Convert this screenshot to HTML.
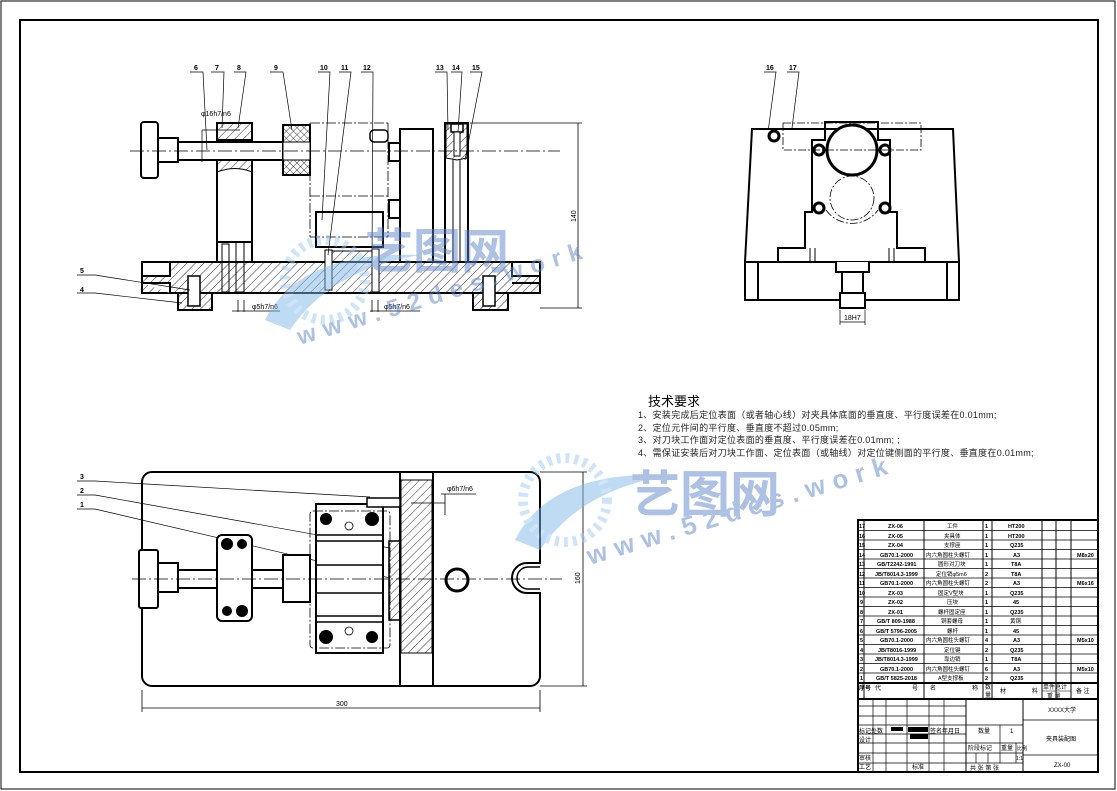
<!DOCTYPE html>
<html><head><meta charset="utf-8"><style>
html,body{margin:0;padding:0;background:#fff}
svg{display:block}
text{font-family:"Liberation Sans","Noto Sans CJK SC",sans-serif;fill:#000}
.t{font-size:5.5px;font-weight:bold}
.c{font-size:7px}
</style></head><body>
<svg width="1117" height="791" viewBox="0 0 1117 791" xmlns="http://www.w3.org/2000/svg">
<defs>
<pattern id="h" width="6" height="6" patternUnits="userSpaceOnUse" patternTransform="rotate(45)">
<line x1="0" y1="0" x2="0" y2="6" stroke="#000" stroke-width="0.8"/></pattern>
<pattern id="x" width="5" height="5" patternUnits="userSpaceOnUse" patternTransform="rotate(45)">
<path d="M0 0V5M0 0H5" stroke="#000" stroke-width="0.7" fill="none"/></pattern>
</defs>
<rect x="1" y="1" width="1114" height="788" fill="none" stroke="#000" stroke-width="1"/>
<rect x="20" y="20" width="1078" height="752" fill="none" stroke="#000" stroke-width="2"/>

<!-- FRONT VIEW -->
<g stroke="#000" fill="none" stroke-width="2">
<path d="M142 262H540V293H142Z" fill="url(#h)"/>
<path d="M142 262H170V276H142Z M512 262H540V276H512Z M142 283H170V293 M512 283H540" fill="#fff"/>
<rect x="178" y="293" width="34" height="17" fill="url(#h)"/>
<rect x="473" y="293" width="35" height="17" fill="url(#h)"/>
<rect x="188" y="276" width="12" height="30" fill="#fff" stroke-width="1.5"/>
<rect x="483" y="276" width="12" height="30" fill="#fff" stroke-width="1.5"/>
<rect x="141" y="122" width="17" height="56" rx="3" fill="#fff"/>
<rect x="158" y="138" width="20" height="24" fill="#fff"/>
<rect x="178" y="142" width="105" height="18" fill="#fff"/>
<rect x="217" y="123" width="35" height="17" fill="url(#h)"/>
<rect x="217" y="160" width="35" height="102" fill="#fff"/>
<path d="M217 160H252V172Q235 165 217 172Z" fill="url(#h)" stroke-width="1"/>
<rect x="283" y="125" width="27" height="50" fill="url(#x)"/>
<rect x="283" y="142" width="27" height="18" fill="#fff" stroke-width="1"/>
<rect x="217" y="242" width="35" height="20" fill="#fff"/>
<rect x="222" y="244" width="7" height="48" stroke-width="1"/>
<rect x="236" y="242" width="8" height="50" stroke-width="1"/>
<rect x="316" y="212" width="67" height="35" fill="#fff"/>
<path d="M330 251H375V262H330Z" fill="url(#h)" stroke-width="1"/>
<rect x="325" y="250" width="7" height="40" fill="#fff" stroke-width="1"/>
<rect x="372" y="249" width="7" height="43" fill="#fff" stroke-width="1"/>
<rect x="400" y="129" width="33" height="133" fill="#fff"/>
<rect x="389" y="143" width="11" height="18" fill="#fff"/>
<rect x="389" y="200" width="11" height="18" fill="#fff"/>
<rect x="370" y="130" width="18" height="12" rx="4" fill="#fff" stroke-width="1.5"/>
<rect x="445" y="123" width="23" height="139" fill="#fff"/>
<line x1="453" y1="160" x2="453" y2="262" stroke-width="1"/>
<line x1="460" y1="160" x2="460" y2="262" stroke-width="1"/>
<path d="M446 124H467V158L457 160L446 158Z" fill="url(#h)" stroke-width="1"/>
<rect x="451" y="124" width="12" height="8" fill="#fff" stroke-width="1.5"/>
<rect x="454" y="132" width="6" height="24" fill="#fff" stroke-width="1"/>
</g>
<g stroke="#000" stroke-width="0.8" fill="none">
<path d="M310 123H388M310 237H388M310 123V237M388 123V237M310 196H388" stroke-dasharray="10 2 2 2"/>
<path d="M130 151H560" stroke-dasharray="14 3 2 3"/>
<path d="M470 123H582M540 308H582M578 123V308"/>
<path d="M202 130H240M202 130V162" stroke-width="0.7"/>
<text x="201" y="116" style="font-size:7px;stroke:none">φ16h7/n6</text>
<path d="M238 300V312M244 300V312M232 311H280M372 300V312M378 300V312M370 311H420"/>
</g>
<text x="252" y="309" class="c">φ5h7/n6</text>
<text x="384" y="309" class="c">φ5h7/n6</text>
<text x="576" y="222" class="c" transform="rotate(-90 576 222)">140</text>
<!-- leaders -->
<g stroke="#000" stroke-width="0.7" fill="none">
<path d="M190 72H203L207 150M211 72H224L222 128M234 72H246L238 128M270 72H283L292 130M318 72H330L322 220M339 72H351L328 255M361 72H373L372 258M435 72H447L448 130M451 72H462L458 132M470 72H482L465 160M764 72H776L768 132M787 72H799L792 128"/>
<path d="M77 275H95L190 290M77 293H95L182 303"/>
<path d="M77 481H95L370 497M77 495H95L390 548M77 509H95L390 578"/>
</g>
<g class="c" style="font-size:7px;font-weight:bold">
<text x="194" y="70">6</text><text x="215" y="70">7</text><text x="237" y="70">8</text><text x="274" y="70">9</text>
<text x="320" y="70">10</text><text x="341" y="70">11</text><text x="363" y="70">12</text>
<text x="436" y="70">13</text><text x="452" y="70">14</text><text x="472" y="70">15</text>
<text x="766" y="70">16</text><text x="789" y="70">17</text>
<text x="80" y="273">5</text><text x="80" y="292">4</text>
<text x="80" y="479">3</text><text x="80" y="493">2</text><text x="80" y="507">1</text>
</g>

<!-- SIDE VIEW -->
<g stroke="#000" fill="none" stroke-width="2">
<path d="M752 129H953L959 262H745Z" fill="#fff"/>
<rect x="745" y="262" width="214" height="38"/>
<line x1="758" y1="262" x2="758" y2="300"/><line x1="947" y1="262" x2="947" y2="300"/>
<path d="M778 262V248H805V212H812V140H825V122H878V140H890V212H897V248H925V262"/>
<path d="M810 262V248M815 262V248M889 262V248M894 262V248" stroke-width="1"/>
<circle cx="852" cy="150" r="25" stroke-width="3" fill="#fff"/>
<circle cx="774" cy="136" r="5" stroke-width="3"/>
<circle cx="819" cy="150" r="5" stroke-width="3"/><circle cx="885" cy="150" r="5" stroke-width="3"/>
<circle cx="819" cy="208" r="5" stroke-width="3"/><circle cx="885" cy="208" r="5" stroke-width="3"/>
<path d="M836 262V272H869V262M842 272V293H863V272" fill="#fff"/>
<rect x="840" y="293" width="25" height="15" fill="#fff"/>
</g>
<g stroke="#000" stroke-width="0.8" fill="none" stroke-dasharray="8 2 2 2">
<rect x="783" y="123" width="138" height="27"/>
<circle cx="852" cy="198" r="22"/>
<path d="M826 210A32 32 0 0 0 878 210"/>
</g>
<path d="M840 310V325M865 310V325M840 322H865" stroke="#000" stroke-width="0.7"/>
<text x="844" y="320" class="c">18H7</text>

<!-- TOP VIEW -->
<g stroke="#000" fill="none" stroke-width="2">
<path d="M152 472H530A10 10 0 0 1 540 482V563H527A15 15 0 0 0 527 593H540V676A10 10 0 0 1 530 686H152A10 10 0 0 1 142 676V482A10 10 0 0 1 152 472Z"/>
<path d="M540 567H528A11 11 0 0 0 528 589H540" stroke-width="1.5"/>
<rect x="400" y="472" width="33" height="214"/>
<path d="M401 480H432V653H401Z" fill="url(#h)" stroke-width="1"/>
<rect x="139" y="550" width="19" height="58" rx="2" fill="#fff"/>
<rect x="158" y="563" width="20" height="29" fill="#fff"/>
<rect x="178" y="570" width="105" height="18" fill="#fff"/>
<rect x="217" y="535" width="35" height="86" rx="5" fill="#fff"/>
<rect x="283" y="555" width="27" height="47" fill="#fff"/>
<rect x="316" y="504" width="67" height="149" fill="#fff"/>
<path d="M316 535H383M316 541H383M316 565H383M316 593H383M316 616H383M316 622H383" stroke-width="1.5"/>
<rect x="389" y="541" width="11" height="79" fill="url(#h)" stroke-width="1.5"/>
<rect x="367" y="498" width="33" height="9" fill="#fff" stroke-width="1.5"/>
<circle cx="457" cy="580" r="11" stroke-width="3"/>
<circle cx="326" cy="519" r="5" fill="#000"/><circle cx="372" cy="519" r="6" fill="#000"/>
<circle cx="326" cy="637" r="6" fill="#000"/><circle cx="372" cy="637" r="5" fill="#000"/>
<circle cx="227" cy="544" r="5" fill="#000"/><circle cx="242" cy="544" r="4" fill="#000"/>
<circle cx="227" cy="611" r="4" fill="#000"/><circle cx="242" cy="611" r="5" fill="#000"/>
</g>
<g stroke="#000" stroke-width="0.8" fill="none">
<circle cx="349" cy="526" r="4"/><circle cx="349" cy="631" r="4"/>
<rect x="310" y="511" width="80" height="137" rx="3" stroke-dasharray="10 2 2 2"/>
<path d="M132 579H562" stroke-dasharray="14 3 2 3"/>
<path d="M142 690V712M540 690V712M142 708H540M540 472H587M540 686H587M583 472V686"/>
<path d="M411 503H445M445 494V515M441 494H476"/>
</g>
<text x="336" y="706" class="c">300</text>
<text x="580" y="584" class="c" transform="rotate(-90 580 584)">160</text>
<text x="447" y="491" class="c">φ6h7/n6</text>

<!-- Technical requirements -->
<text x="648" y="406" style="font-size:13px">技术要求</text>
<g>
<text x="638" y="418" style="font-size:9px;letter-spacing:0.3px;fill:#222">1、安装完成后定位表面（或者轴心线）对夹具体底面的垂直度、平行度误差在0.01mm;</text>
<text x="638" y="431" style="font-size:9px;letter-spacing:0.3px;fill:#222">2、定位元件间的平行度、垂直度不超过0.05mm;</text>
<text x="638" y="443" style="font-size:9px;letter-spacing:0.3px;fill:#222">3、对刀块工作面对定位表面的垂直度、平行度误差在0.01mm; ;</text>
<text x="638" y="456" style="font-size:9px;letter-spacing:0.3px;fill:#222">4、需保证安装后对刀块工作面、定位表面（或轴线）对定位键侧面的平行度、垂直度在0.01mm;</text>
</g>

<!-- TABLE -->
<g stroke="#000" fill="none">
<rect x="858" y="520" width="240" height="252" stroke-width="2"/>
<path d="M858 683H1098M858 699H1098" stroke-width="2"/>
<path d="M858 530.5H1098M858 540H1098M858 549.5H1098M858 559H1098M858 568.5H1098M858 578H1098M858 587.5H1098M858 597H1098M858 606.5H1098M858 616H1098M858 625.5H1098M858 635H1098M858 644.5H1098M858 654H1098M858 663.5H1098M858 673H1098" stroke-width="0.8"/>
<path d="M864 520V699M924 520V699M983 520V699M992 520V699M1042 520V699M1056 520V699M1071 520V699" stroke-width="1"/>
<path d="M1042 691H1071" stroke-width="0.6"/>
<path d="M966 699V772M1023 699V772" stroke-width="1"/>
<path d="M858 706H966M858 716H966M858 725H1023M858 734H966M858 743H1023M858 753H1023M858 763H1023M1023 720H1098M1023 755H1098" stroke-width="0.7"/>
<path d="M873 699V772M886 699V772M907 699V772M929 699V772M944 699V772M1000 725V763M1016 743V763M976 753V763M988 753V763" stroke-width="0.7"/>
</g>
<rect x="891" y="727" width="12" height="4" fill="#000"/><rect x="908" y="727" width="20" height="5" fill="#000"/><rect x="910" y="734" width="18" height="5" fill="#000"/>
<g class="t">
<text x="859" y="528">17</text><text x="888" y="528">ZX-06</text><text x="947" y="528" style="font-weight:normal">工件</text><text x="985" y="528">1</text><text x="1008" y="528">HT200</text>
<text x="859" y="538">16</text><text x="888" y="538">ZX-05</text><text x="944" y="538" style="font-weight:normal">夹具体</text><text x="985" y="538">1</text><text x="1008" y="538">HT200</text>
<text x="859" y="547">15</text><text x="888" y="547">ZX-04</text><text x="944" y="547" style="font-weight:normal">支撑座</text><text x="985" y="547">1</text><text x="1010" y="547">Q235</text>
<text x="859" y="557">14</text><text x="880" y="557">GB70.1-2000</text><text x="926" y="557" style="font-weight:normal">内六角圆柱头螺钉</text><text x="985" y="557">1</text><text x="1013" y="557">A3</text><text x="1077" y="557">M8x20</text>
<text x="859" y="566">13</text><text x="877" y="566">GB/T2242-1991</text><text x="938" y="566" style="font-weight:normal">圆形对刀块</text><text x="985" y="566">1</text><text x="1011" y="566">T8A</text>
<text x="859" y="576">12</text><text x="875" y="576">JB/T8014.3-1999</text><text x="936" y="576" style="font-weight:normal">定位销φ5m6</text><text x="985" y="576">2</text><text x="1011" y="576">T8A</text>
<text x="859" y="585">11</text><text x="880" y="585">GB70.1-2000</text><text x="926" y="585" style="font-weight:normal">内六角圆柱头螺钉</text><text x="985" y="585">2</text><text x="1013" y="585">A3</text><text x="1077" y="585">M6x16</text>
<text x="859" y="595">10</text><text x="888" y="595">ZX-03</text><text x="938" y="595" style="font-weight:normal">固定V型块</text><text x="985" y="595">1</text><text x="1010" y="595">Q235</text>
<text x="860" y="604">9</text><text x="888" y="604">ZX-02</text><text x="947" y="604" style="font-weight:normal">压块</text><text x="985" y="604">1</text><text x="1013" y="604">45</text>
<text x="860" y="614">8</text><text x="888" y="614">ZX-01</text><text x="938" y="614" style="font-weight:normal">螺杆固定座</text><text x="985" y="614">1</text><text x="1010" y="614">Q235</text>
<text x="860" y="623">7</text><text x="877" y="623">GB/T 809-1988</text><text x="941" y="623" style="font-weight:normal">铜套螺母</text><text x="985" y="623">1</text><text x="1010" y="623" style="font-weight:normal">黄铜</text>
<text x="860" y="633">6</text><text x="876" y="633">GB/T 5796-2005</text><text x="947" y="633" style="font-weight:normal">螺杆</text><text x="985" y="633">1</text><text x="1013" y="633">45</text>
<text x="860" y="642">5</text><text x="880" y="642">GB70.1-2000</text><text x="926" y="642" style="font-weight:normal">内六角圆柱头螺钉</text><text x="985" y="642">4</text><text x="1013" y="642">A3</text><text x="1077" y="642">M5x10</text>
<text x="860" y="652">4</text><text x="878" y="652">JB/T8016-1999</text><text x="944" y="652" style="font-weight:normal">定位键</text><text x="985" y="652">2</text><text x="1010" y="652">Q235</text>
<text x="860" y="661">3</text><text x="875" y="661">JB/T8014.3-1999</text><text x="944" y="661" style="font-weight:normal">靠边销</text><text x="985" y="661">1</text><text x="1011" y="661">T8A</text>
<text x="860" y="671">2</text><text x="880" y="671">GB70.1-2000</text><text x="926" y="671" style="font-weight:normal">内六角圆柱头螺钉</text><text x="985" y="671">6</text><text x="1013" y="671">A3</text><text x="1077" y="671">M5x10</text>
<text x="860" y="680">1</text><text x="876" y="680">GB/T 5825-2018</text><text x="938" y="680" style="font-weight:normal">A型支撑板</text><text x="985" y="680">2</text><text x="1010" y="680">Q235</text>
</g>
<g style="font-size:6px">
<text x="859" y="690" style="font-size:6px;font-weight:bold">序号</text><text x="875" y="690" style="font-size:6px">代</text><text x="912" y="690" style="font-size:6px">号</text>
<text x="930" y="690" style="font-size:6px">名</text><text x="972" y="690" style="font-size:6px">称</text>
<text x="985" y="689" style="font-size:6px">数</text><text x="985" y="697" style="font-size:6px">量</text>
<text x="1000" y="693" style="font-size:6px">材</text><text x="1032" y="693" style="font-size:6px">料</text>
<text x="1043" y="689" style="font-size:6px">单件总计</text><text x="1047" y="698" style="font-size:6px">重 量</text>
<text x="1076" y="693" style="font-size:6px">备 注</text>
<text x="1048" y="712" style="font-size:6px">XXXX大学</text>
<text x="1046" y="741" style="font-size:6px">夹具装配图</text>
<text x="1054" y="767" style="font-size:6px">ZX-00</text>
<text x="978" y="733" style="font-size:6px">数量</text><text x="1010" y="733" style="font-size:6px">1</text>
<text x="968" y="750" style="font-size:6px">阶段标记</text><text x="1001" y="750" style="font-size:6px">重量</text><text x="1017" y="750" style="font-size:5px">比例</text>
<text x="1016" y="760" style="font-size:5px">1:1</text>
<text x="970" y="770" style="font-size:6px">共  张   第  张</text>
<text x="859" y="733" style="font-size:6px">标记处数</text><text x="930" y="733" style="font-size:6px">签名年月日</text>
<text x="859" y="742" style="font-size:6px">设计</text><text x="859" y="760" style="font-size:6px">审核</text><text x="859" y="769" style="font-size:6px">工艺</text><text x="912" y="769" style="font-size:6px">标准</text>
</g>

<!-- watermarks -->
<g opacity="0.5">
<path d="M265 320Q300 250 420 255Q330 270 290 330Z" fill="#7fb6e8"/>
<circle cx="325" cy="280" r="40" fill="none" stroke="#9cc8f0" stroke-width="10" stroke-dasharray="4 5"/>
<text x="365" y="268" style="font-size:48px;font-weight:bold;fill:#5b82c8">艺图网</text>
<text x="300" y="345" transform="rotate(-17 300 345)" style="font-size:24px;font-weight:bold;fill:#5b82c8;letter-spacing:8px">www.52des.work</text>
<path d="M515 540Q550 470 670 475Q580 490 540 550Z" fill="#7fb6e8"/>
<circle cx="565" cy="500" r="42" fill="none" stroke="#9cc8f0" stroke-width="10" stroke-dasharray="4 5"/>
<text x="630" y="512" style="font-size:50px;font-weight:bold;fill:#5b82c8">艺图网</text>
<text x="590" y="565" transform="rotate(-17 590 565)" style="font-size:26px;font-weight:bold;fill:#5b82c8;letter-spacing:8px">www.52des.work</text>
</g>
</svg>
</body></html>
